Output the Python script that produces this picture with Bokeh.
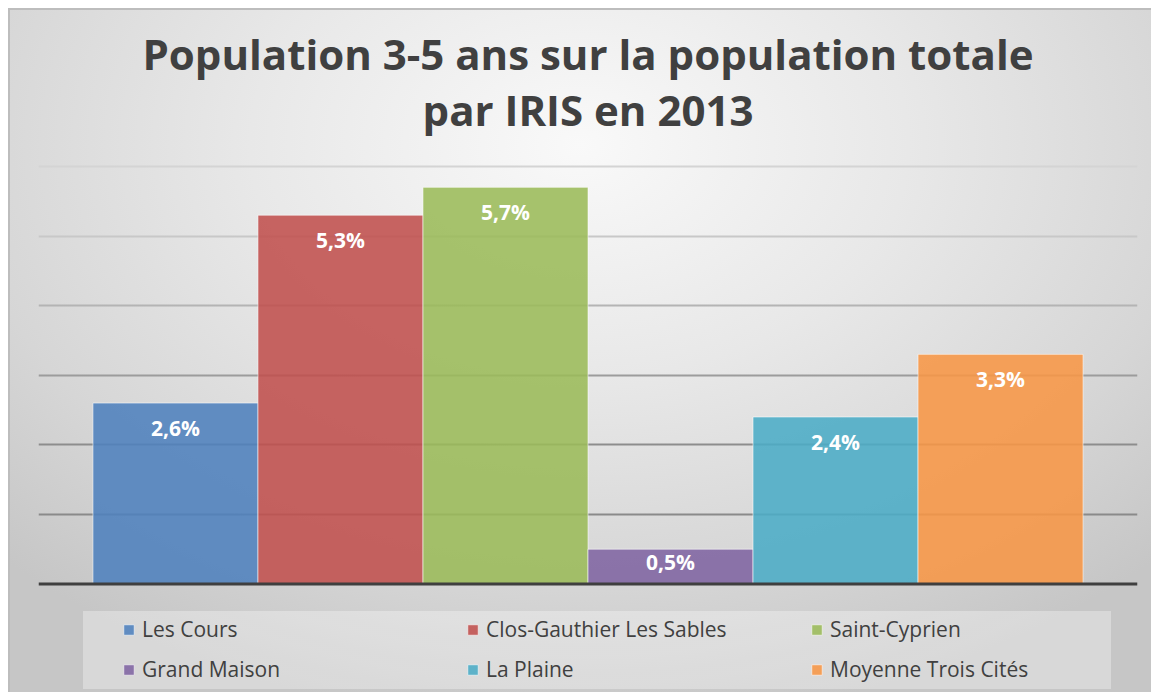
from bokeh.plotting import figure
from bokeh.models import (ColumnDataSource, FactorRange, Range1d, Span, Grid,
                          FixedTicker, Legend, LegendItem, Title)
from bokeh.core.properties import value
from bokeh.embed import file_html
from bokeh.resources import INLINE

# ---- data ----
categories = ["Les Cours", "Clos-Gauthier Les Sables", "Saint-Cyprien",
              "Grand Maison", "La Plaine", "Moyenne Trois Cités"]
values = [2.6, 5.3, 5.7, 0.5, 2.4, 3.3]
colors = ["#4F81BD", "#C0504D", "#9BBB59", "#8064A2", "#4BACC6", "#F79646"]
y_ticks = [1, 2, 3, 4, 5, 6]
grid_colors = ["#8a8a8a", "#8d8d8d", "#9c9c9c", "#b4b4b4", "#c8c8c8", "#d4d4d4"]
title_lines = ["Population 3-5 ans sur la population totale", "par IRIS en 2013"]

FONT = "Open Sans"
W, H = 1143, 684
LEFT, RIGHT, TOP, BOTTOM = 30, 14, 152, 0
frame_h = H - TOP - BOTTOM
px_per_unit = 69.58
y_end = 6 + 6 / px_per_unit
y_start = y_end - frame_h / px_per_unit

labels = [("%.1f" % v).replace(".", ",") + "%" for v in values]
offsets = [min(25.0, v * px_per_unit * 0.38) for v in values]

src = ColumnDataSource(dict(cat=categories, val=values, color=colors,
                            label=labels, off=offsets))

p = figure(width=W, height=H, output_backend="svg", toolbar_location=None,
           x_range=FactorRange(factors=categories, range_padding=0.33,
                               range_padding_units="absolute"),
           y_range=Range1d(y_start, y_end),
           x_axis_location=None, y_axis_location=None,
           min_border_left=LEFT, min_border_right=RIGHT,
           min_border_top=TOP, min_border_bottom=BOTTOM)

p.background_fill_alpha = 0
p.border_fill_alpha = 0
p.outline_line_color = None
p.xgrid.visible = False
p.ygrid.visible = False

p.styles = {
    "margin-left": "8px",
    "margin-top": "8px",
    "background": "linear-gradient(rgba(255,255,255,0.32), rgba(255,255,255,0.32)) "
                  "no-repeat 75px 603px / 1028px 78px, "
                  "radial-gradient(ellipse 72% 85% at 50% 20%, #f9f9f9 0%, #e8e8e8 40%, "
                  "#d6d6d6 75%, #c6c6c6 100%)",
    "box-shadow": "inset 2px 2px 0 0 #bdbdbd",
}

for t, c in zip(y_ticks, grid_colors):
    g = Grid(dimension=1, ticker=FixedTicker(ticks=[t]), grid_line_color=c,
             grid_line_width=2)
    p.add_layout(g)

r = p.vbar(x="cat", top="val", bottom=0, width=1.0, source=src,
           fill_color="color", fill_alpha=0.88,
           line_color="white", line_alpha=0.55, line_width=1)

p.add_layout(Span(location=0, dimension="width", line_color="#3f3f3f",
                  line_width=3))

p.text(x="cat", y="val", text="label", y_offset="off", source=src,
       text_align="center", text_baseline="middle", text_color="white",
       text_font=value(FONT), text_font_style="bold", text_font_size="21px")

# second line first: it sits closest to the frame
p.add_layout(Title(text=title_lines[1], align="center",
                   text_font=FONT, text_font_style="bold", text_font_size="42px",
                   text_color="#404040", standoff=46), "above")
p.add_layout(Title(text=title_lines[0], align="center",
                   text_font=FONT, text_font_style="bold", text_font_size="42px",
                   text_color="#404040", standoff=-52), "above")

items = [LegendItem(label=c, renderers=[r], index=i) for i, c in enumerate(categories)]
legend = Legend(items=items, location=(84, 9), orientation="horizontal", ncols=3,
                background_fill_alpha=0, border_line_color=None,
                padding=0, margin=0, spacing=12,
                glyph_width=13, glyph_height=13, label_standoff=7,
                label_width=312, label_height=27,
                label_text_font=FONT, label_text_font_size="21px",
                label_text_color="#404040")
p.add_layout(legend, "center")

open("out.html", "w").write(file_html(p, INLINE))
